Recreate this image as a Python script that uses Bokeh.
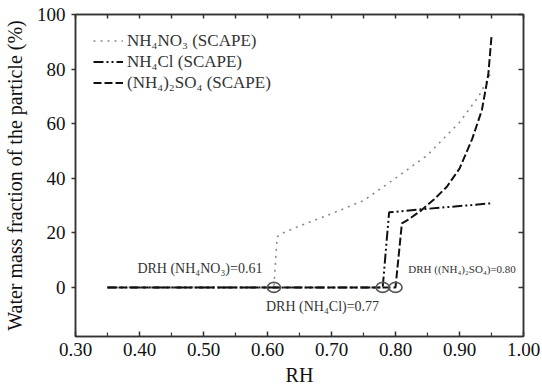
from bokeh.plotting import figure
from bokeh.models import (LinearAxis, FixedTicker, Range1d, Legend, LegendItem,
                          NumeralTickFormatter, CustomJSTickFormatter)
from bokeh.core.properties import value
from bokeh.embed import file_html
from bokeh.resources import INLINE

# ---- data ----
rh_no3 = [0.35, 0.61, 0.615, 0.62, 0.65, 0.70, 0.75, 0.80, 0.85, 0.90, 0.93, 0.95]
wf_no3 = [0.0, 0.0, 18.5, 19.5, 22.5, 27.0, 31.8, 40.0, 48.5, 60.5, 70.0, 79.0]

rh_cl = [0.35, 0.78, 0.79, 0.85, 0.95]
wf_cl = [0.0, 0.0, 27.5, 28.8, 30.8]

rh_so4 = [0.35, 0.80, 0.81, 0.82, 0.84, 0.86, 0.88, 0.90, 0.92, 0.935, 0.945, 0.95]
wf_so4 = [0.0, 0.0, 23.5, 24.8, 28.2, 32.2, 36.8, 43.5, 54.5, 65.0, 78.0, 92.0]

drh_x = [0.61, 0.78, 0.80]
drh_y = [0.0, 0.0, 0.0]

x_major = [0.30, 0.40, 0.50, 0.60, 0.70, 0.80, 0.90, 1.00]
x_minor = [0.35, 0.45, 0.55, 0.65, 0.75, 0.85, 0.95]
y_major = [0, 20, 40, 60, 80, 100]

labels = ["NH\u2084NO\u2083 (SCAPE)", "NH\u2084Cl (SCAPE)", "(NH\u2084)\u2082SO\u2084 (SCAPE)"]
drh_labels = ["DRH (NH\u2084NO\u2083)=0.61", "DRH (NH\u2084Cl)=0.77", "DRH ((NH\u2084)\u2082SO\u2084)=0.80"]
lab_x = [0.592, 0.686, 0.820]
lab_y = [6.9, -7.0, 6.9]

FONT = "Liberation Serif"
INK = "#111111"
AX = "#333333"

W, H = 542, 390
BL, BR, BT, BB = 73, 19, 14, 54
FH = H - BT - BB

p = figure(width=W, height=H, x_range=Range1d(0.30, 1.00), y_range=Range1d(-18, 100),
           output_backend="svg", toolbar_location=None,
           min_border_left=BL, min_border_right=BR, min_border_top=BT, min_border_bottom=BB)
p.grid.visible = False
p.outline_line_color = AX
p.outline_line_width = 1.5
p.background_fill_color = "white"
p.border_fill_color = "white"

# bottom axis
xa = p.xaxis[0]
xa.ticker = FixedTicker(ticks=x_major, minor_ticks=x_minor)
xa.formatter = NumeralTickFormatter(format="0.00")
xa.axis_label = "RH"
xa.major_tick_in = 5
xa.major_tick_out = 0
xa.minor_tick_in = 4
xa.minor_tick_out = 0
xa.major_label_standoff = 6

# left axis
ya = p.yaxis[0]
ya.ticker = FixedTicker(ticks=y_major, minor_ticks=[])
ya.axis_label = "Water mass fraction of the particle (%)"
ya.major_tick_in = 0
ya.major_tick_out = 4
ya.minor_tick_in = 0
ya.minor_tick_out = 0
ya.major_label_standoff = 6

for ax in (xa, ya):
    ax.axis_line_color = AX
    ax.axis_line_width = 1.5
    ax.major_tick_line_color = AX
    ax.major_tick_line_width = 1.5
    ax.minor_tick_line_color = AX
    ax.minor_tick_line_width = 1.2
    ax.major_label_text_font = FONT
    ax.major_label_text_font_size = "19px"
    ax.major_label_text_color = INK
    ax.axis_label_text_font = FONT
    ax.axis_label_text_font_size = "20px"
    ax.axis_label_text_font_style = "normal"
    ax.axis_label_text_color = INK
xa.axis_label_standoff = 5
ya.axis_label_standoff = 8

# top and right axes: inward ticks, no labels
blank = CustomJSTickFormatter(code="return ''")
top = LinearAxis(ticker=FixedTicker(ticks=sorted(x_major + x_minor), minor_ticks=[]),
                 formatter=blank,
                 major_tick_in=4, major_tick_out=0, minor_tick_in=0, minor_tick_out=0,
                 major_label_standoff=0,
                 axis_line_color=AX, axis_line_width=1.5,
                 major_tick_line_color=AX, major_tick_line_width=1.5)
p.add_layout(top, "above")
right = LinearAxis(ticker=FixedTicker(ticks=y_major, minor_ticks=[]),
                   formatter=blank,
                   major_tick_in=5, major_tick_out=0, minor_tick_in=0, minor_tick_out=0,
                   major_label_standoff=0,
                   axis_line_color=AX, axis_line_width=1.5,
                   major_tick_line_color=AX, major_tick_line_width=1.5)
p.add_layout(right, "right")

# series
r1 = p.line(rh_no3, wf_no3, line_color="#8a8a8a", line_width=1.6, line_dash="2 5")
r2 = p.line(rh_cl, wf_cl, line_color="#111111", line_width=2, line_dash="10 3 2 3 2 3")
r3 = p.line(rh_so4, wf_so4, line_color="#111111", line_width=2, line_dash="8 3")

# DRH markers
p.ellipse(x=drh_x, y=drh_y, width=13, height=10, width_units="screen", height_units="screen",
          fill_color=None, line_color="#555555", line_width=1.6)

# DRH annotations
p.text(x=[lab_x[0]], y=[lab_y[0]], text=[drh_labels[0]], text_font=value(FONT),
       text_font_size="14px", text_align="right", text_baseline="middle", text_color="#333333")
p.text(x=[lab_x[1]], y=[lab_y[1]], text=[drh_labels[1]], text_font=value(FONT),
       text_font_size="14px", text_align="center", text_baseline="middle", text_color="#333333")
p.text(x=[lab_x[2]], y=[lab_y[2]], text=[drh_labels[2]], text_font=value(FONT),
       text_font_size="11px", text_align="left", text_baseline="middle", text_color="#333333")

LH = 21
legend = Legend(items=[LegendItem(label=labels[0], renderers=[r1]),
                       LegendItem(label=labels[1], renderers=[r2]),
                       LegendItem(label=labels[2], renderers=[r3])],
                location=(18, FH - 16 - 3 * LH))
legend.border_line_color = None
legend.background_fill_alpha = 0
legend.label_text_font = FONT
legend.label_text_font_size = "17px"
legend.label_text_color = "#333333"
legend.glyph_width = 30
legend.glyph_height = LH
legend.label_height = LH
legend.label_standoff = 4
legend.spacing = 0
legend.padding = 0
legend.margin = 0
p.add_layout(legend)

open("out.html", "w").write(file_html(p, INLINE))
